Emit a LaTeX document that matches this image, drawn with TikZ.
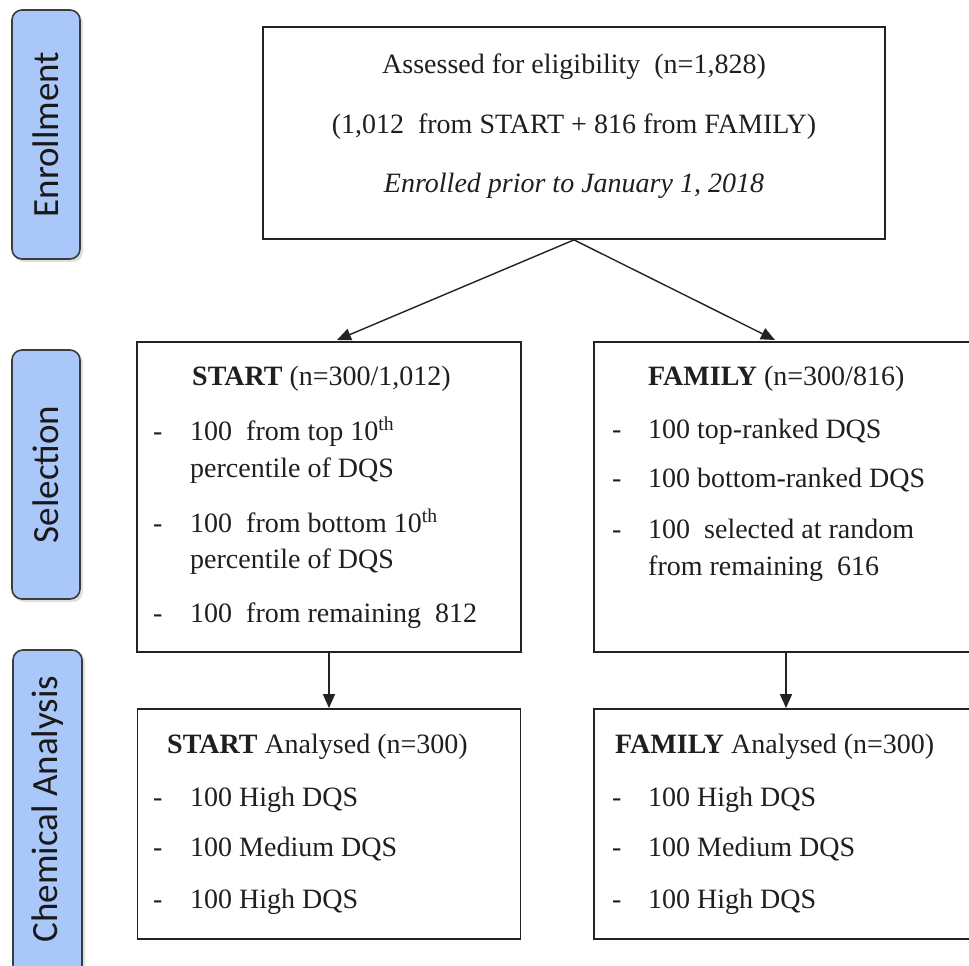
\documentclass[tikz,border=0pt]{standalone}
\usepackage{fontspec}
\setmainfont{Liberation Serif}
\newfontfamily\lblfont{Carlito}
\usetikzlibrary{arrows.meta}
\definecolor{lblblue}{RGB}{170,199,250}
\definecolor{lbledge}{RGB}{60,60,60}
\definecolor{boxedge}{RGB}{35,35,35}
\tikzset{
  sidebox/.style={draw=lbledge, line width=1.6pt, fill=lblblue, rounded corners=10pt, inner sep=0pt},
  sidetext/.style={rotate=90, font=\lblfont\fontsize{37}{40}\selectfont, text=black!90, inner sep=0pt},
  flowbox/.style={draw=boxedge, line width=1.8pt, inner sep=0pt},
  txt/.style={anchor=base west, inner sep=0pt, font=\fontsize{28}{32}\selectfont, text=black!88},
  ctxt/.style={anchor=base, inner sep=0pt, font=\fontsize{28}{32}\selectfont, text=black!88},
  conn/.style={draw=boxedge, line width=1.4pt, -{Triangle[length=14pt,width=12pt]}},
  shadowbox/.style={fill=black!12, rounded corners=10pt, draw=none}
}
\begin{document}
\begin{tikzpicture}[x=1pt,y=-1pt]
\useasboundingbox (0,0) rectangle (969,966);
\clip (0,0) rectangle (969,966);
\fill[white] (0,0) rectangle (969,966);

% side labels
\fill[shadowbox] (14,12) rectangle (83,262);
\node[sidebox, minimum width=68pt, minimum height=249pt] (labA) at (46,134.5) {};
\node[sidetext] (labAt) at (labA.center) {Enrollment};
\fill[shadowbox] (14,352) rectangle (83,602);
\node[sidebox, minimum width=68pt, minimum height=249pt] (labB) at (46,474.5) {};
\node[sidetext] (labBt) at (labB.center) {Selection};
\fill[shadowbox] (15,652) rectangle (85,980);
\node[sidebox, minimum width=69pt, minimum height=325pt] (labC) at (47.5,812.5) {};
\node[sidetext] (labCt) at (47.5,809) {Chemical Analysis};

% boxes
\node[flowbox, minimum width=622pt, minimum height=212pt] (top) at (574,133) {};
\node[flowbox, minimum width=384pt, minimum height=310pt] (selL) at (329,497) {};
\node[flowbox, minimum width=384pt, minimum height=310pt] (selR) at (786,497) {};
\node[flowbox, minimum width=383pt, minimum height=230pt] (anaL) at (329,824) {};
\node[flowbox, minimum width=384pt, minimum height=230pt] (anaR) at (786,824) {};

% top text
\node[ctxt] (t1) at (574,74) {Assessed for eligibility\ \ (n=1,828)};
\node[ctxt] (t2) at (574,133) {(1,012\ \ from START + 816 from FAMILY)};
\node[ctxt] (t3) at (574,192) {\itshape Enrolled prior to January 1, 2018};

% selection left
\node[txt] (sl0) at (192,385) {\textbf{START} (n=300/1,012)};
\node[txt] (sld1) at (153,440) {-};
\node[txt] (sl1) at (190,440) {100\ \ from top 10\textsuperscript{th}};
\node[txt] (sl2) at (190,477) {percentile of DQS};
\node[txt] (sld3) at (153,532) {-};
\node[txt] (sl3) at (190,532) {100\ \ from bottom 10\textsuperscript{th}};
\node[txt] (sl4) at (190,568) {percentile of DQS};
\node[txt] (sld5) at (153,622) {-};
\node[txt] (sl5) at (190,622) {100\ \ from remaining\ \ 812};

% selection right
\node[txt] (sr0) at (648,385) {\textbf{FAMILY} (n=300/816)};
\node[txt] (srd1) at (612,438) {-};
\node[txt] (sr1) at (648,438) {100 top-ranked DQS};
\node[txt] (srd2) at (612,487) {-};
\node[txt] (sr2) at (648,487) {100 bottom-ranked DQS};
\node[txt] (srd3) at (612,538) {-};
\node[txt] (sr3) at (648,538) {100\ \ selected at random};
\node[txt] (sr4) at (648,575) {from remaining\ \ 616};

% analysis left
\node[txt] (al0) at (167,753) {\textbf{START} Analysed (n=300)};
\node[txt] (ald1) at (153,806) {-};
\node[txt] (al1) at (190,806) {100 High DQS};
\node[txt] (ald2) at (153,856) {-};
\node[txt] (al2) at (190,856) {100 Medium DQS};
\node[txt] (ald3) at (153,908) {-};
\node[txt] (al3) at (190,908) {100 High DQS};

% analysis right
\node[txt] (ar0) at (615,753) {\textbf{FAMILY} Analysed (n=300)};
\node[txt] (ard1) at (612,806) {-};
\node[txt] (ar1) at (648,806) {100 High DQS};
\node[txt] (ard2) at (612,856) {-};
\node[txt] (ar2) at (648,856) {100 Medium DQS};
\node[txt] (ard3) at (612,908) {-};
\node[txt] (ar3) at (648,908) {100 High DQS};

% connectors
\coordinate (tipL) at (337,340);
\coordinate (tipR) at (775,340);
\draw[conn] (top.south) -- (tipL);
\draw[conn] (top.south) -- (tipR);
\draw[conn] (selL.south) -- (anaL.north);
\draw[conn] (selR.south) -- (anaR.north);
\end{tikzpicture}
\end{document}
